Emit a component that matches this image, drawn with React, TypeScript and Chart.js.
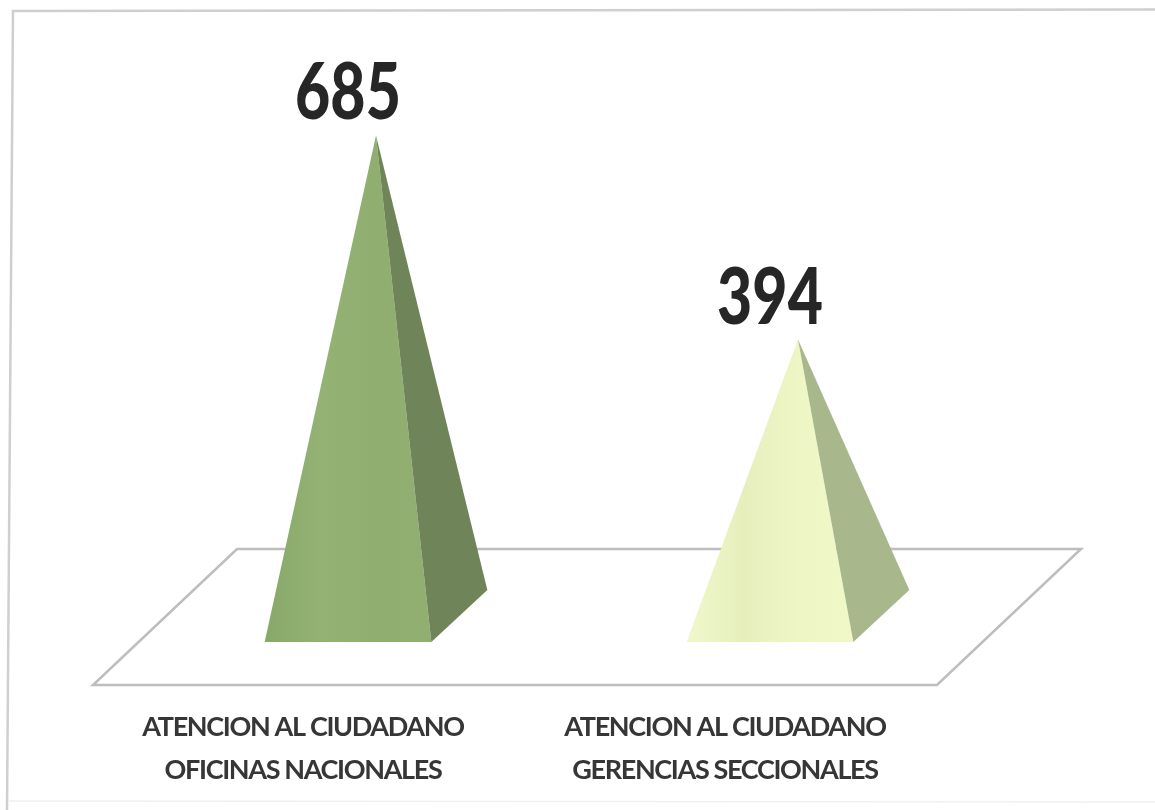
import { useEffect, useRef } from "react";
import { Chart, registerables } from "chart.js";

Chart.register(...registerables);

const categoryLines = [
  ["ATENCION AL CIUDADANO", "OFICINAS NACIONALES"],
  ["ATENCION AL CIUDADANO", "GERENCIAS SECCIONALES"],
];
const attentionCounts = [685, 394];
const frontColors = [
  ["#87A968", "#93B274", "#8FAE6F", "#90AF70"],
  ["#F0F8CC", "#E6EFBC", "#EEF6C6", "#F0F8C8"],
];
const sideColors = ["#6F8559", "#A9B88C"];

const LABEL_FONT = 'Lato, "Liberation Sans", sans-serif';
const HALF_DEPTH_X = 28;
const HALF_DEPTH_Y = 26;
const FLOOR_SHEAR_X = 72;
const VALUE_SQUEEZE = 0.77;

// Draws the frame, floor, pyramids and value captions from the bar elements' geometry.
const pyramidPlugin = {
  id: "pyramids",
  beforeDraw(chart: any) {
    const { ctx } = chart;
    ctx.save();
    ctx.lineWidth = 2.5;
    ctx.strokeStyle = "#CFCFCF";
    ctx.beginPath();
    ctx.moveTo(7, 810);
    ctx.lineTo(13, 11);
    ctx.lineTo(1155, 9.5);
    ctx.stroke();
    ctx.lineWidth = 1.5;
    ctx.strokeStyle = "#F0F0F0";
    ctx.beginPath();
    ctx.moveTo(8, 801);
    ctx.lineTo(1155, 802);
    ctx.stroke();
    ctx.restore();
    // Tightens the tick captions; the state is reset in afterDraw.
    ctx.letterSpacing = "-1.35px";
  },
  beforeDatasetsDraw(chart: any) {
    const { ctx, chartArea, scales } = chart;
    const mid = scales.y.getPixelForValue(0) + 1;
    ctx.save();
    ctx.strokeStyle = "#BDBDBD";
    ctx.lineWidth = 2.5;
    ctx.beginPath();
    ctx.moveTo(chartArea.left + FLOOR_SHEAR_X, mid - 68);
    ctx.lineTo(chartArea.right + FLOOR_SHEAR_X, mid - 68);
    ctx.lineTo(chartArea.right - FLOOR_SHEAR_X, mid + 68);
    ctx.lineTo(chartArea.left - FLOOR_SHEAR_X, mid + 68);
    ctx.closePath();
    ctx.stroke();
    ctx.restore();
  },
  afterDatasetsDraw(chart: any) {
    const { ctx } = chart;
    const bars = chart.getDatasetMeta(0).data;
    bars.forEach((bar: any, i: number) => {
      const half = bar.width / 2;
      const frontLeft = bar.x - half - HALF_DEPTH_X;
      const frontRight = bar.x + half - HALF_DEPTH_X;
      const backRight = bar.x + half + HALF_DEPTH_X;
      const frontY = bar.base + HALF_DEPTH_Y;
      const backY = bar.base - HALF_DEPTH_Y;
      ctx.save();
      const gradient = ctx.createLinearGradient(frontLeft, 0, frontRight, 0);
      frontColors[i].forEach((c, k) => gradient.addColorStop(k / 3, c));
      ctx.fillStyle = gradient;
      ctx.beginPath();
      ctx.moveTo(bar.x, bar.y);
      ctx.lineTo(frontLeft, frontY);
      ctx.lineTo(frontRight, frontY);
      ctx.closePath();
      ctx.fill();
      ctx.fillStyle = sideColors[i];
      ctx.beginPath();
      ctx.moveTo(bar.x, bar.y);
      ctx.lineTo(frontRight, frontY);
      ctx.lineTo(backRight, backY);
      ctx.closePath();
      ctx.fill();
      // Value caption, condensed horizontally about its own centre.
      ctx.letterSpacing = "0px";
      ctx.translate(bar.x - 28, bar.y - 16);
      ctx.scale(VALUE_SQUEEZE, 1);
      ctx.fillStyle = "#262626";
      ctx.font = `900 79px ${LABEL_FONT}`;
      ctx.textAlign = "center";
      ctx.textBaseline = "alphabetic";
      ctx.fillText(String(attentionCounts[i]), 0, 0);
      ctx.restore();
    });
  },
  afterDraw(chart: any) {
    chart.ctx.letterSpacing = "0px";
  },
};

export default function App() {
  const canvasRef = useRef<HTMLCanvasElement | null>(null);

  useEffect(() => {
    document.body.style.margin = "0";
    const chart = new Chart(canvasRef.current as HTMLCanvasElement, {
      type: "bar",
      data: {
        labels: categoryLines,
        datasets: [
          {
            data: attentionCounts,
            backgroundColor: "rgba(0,0,0,0)",
            borderWidth: 0,
            categoryPercentage: 1,
            barPercentage: 0.395,
          },
        ],
      },
      options: {
        responsive: false,
        animation: false,
        layout: { padding: { left: 165, right: 146, top: 0, bottom: 0 } },
        plugins: { legend: { display: false }, tooltip: { enabled: false } },
        scales: {
          x: {
            grid: { display: false },
            border: { display: false },
            afterFit(scale: any) {
              scale.height = 194;
            },
            ticks: {
              color: "#363636",
              font: { family: LABEL_FONT, size: 27, weight: "bold", lineHeight: 1.58 },
              padding: 82,
              labelOffset: -73,
              maxRotation: 0,
              autoSkip: false,
            },
          },
          y: { display: false, min: 0, max: 878 },
        },
      },
      plugins: [pyramidPlugin],
    });
    return () => chart.destroy();
  }, []);

  return (
    <div style={{ position: "relative", width: 1155, height: 810, background: "#FFFFFF", overflow: "hidden" }}>
      <canvas
        ref={canvasRef}
        width={1155}
        height={810}
        style={{ position: "absolute", left: 0, top: 0 }}
      />
    </div>
  );
}
